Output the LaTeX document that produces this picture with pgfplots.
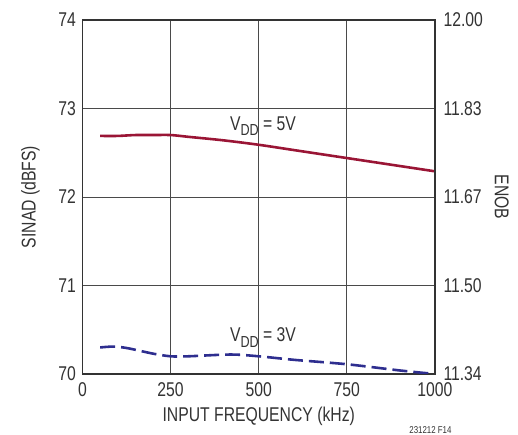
\documentclass[border=0pt]{standalone}
\usepackage{fontspec}
\setmainfont[FakeStretch=0.79]{Liberation Sans}
\usepackage{pgfplots}
\pgfplotsset{compat=1.18}
\definecolor{txt}{HTML}{333333}
\definecolor{red5}{HTML}{9A1535}
\definecolor{blue3}{HTML}{2E2E8F}
\definecolor{gridc}{HTML}{4A4A4A}
\newcommand{\vdd}{V\raisebox{-0.28em}{\fontsize{16}{16}\selectfont DD}}
\begin{document}
\begin{tikzpicture}
\pgfplotsset{every axis/.append style={font=\fontsize{20}{23}\selectfont,
  /pgf/number format/assume math mode=true,
  /pgf/number format/1000 sep={},
  scale only axis, width=352.5bp, height=354bp,
  xmin=0, xmax=1000, ymin=70, ymax=74,
  tick style={draw=none},
  ticklabel style={text=txt}, label style={text=txt}}}
\begin{axis}[name=ax,
  xtick={0,250,500,750,1000}, ytick={70,71,72,73,74},
  grid=major, grid style={gridc, line width=0.8pt},
  axis line style={txt, line width=1.3pt},
  xlabel={INPUT FREQUENCY (kHz)},
  ylabel={SINAD (dBFS)},
  xlabel style={yshift=-4bp},
  ylabel style={yshift=12bp},
  xticklabel style={yshift=-5bp},
  yticklabel style={xshift=-3bp},
]
\addplot[red5, line width=2.6pt, smooth] coordinates {
(50,72.69) (100,72.69) (150,72.70) (200,72.70) (250,72.70) (300,72.68)
(400,72.64) (500,72.59) (600,72.53) (750,72.44) (900,72.35) (1000,72.29)};
\addplot[blue3, line width=2.6pt, smooth, dash pattern=on 15bp off 6bp] coordinates {
(50,70.30) (90,70.31) (130,70.29) (200,70.23) (250,70.20) (300,70.20)
(420,70.22) (500,70.20) (600,70.16) (750,70.11) (900,70.04) (1000,70.00)};
\node[text=txt] at (axis cs:512,72.80) {\vdd{} = 5V};
\node[text=txt] at (axis cs:512,70.41) {\vdd{} = 3V};
\end{axis}
\begin{axis}[
  axis x line=none, axis y line*=right,
  axis line style={txt, line width=1.3pt},
  ytick={70,71,72,73,74},
  yticklabels={11.34,11.50,11.67,11.83,12.00},
  yticklabel style={xshift=5bp},
  ylabel={ENOB},
  ylabel style={rotate=180, yshift=5bp},
]
\addplot[draw=none] coordinates {(0,70)};
\end{axis}
\node[anchor=base east, text=txt, font=\fontsize{10}{11}\selectfont] at ([xshift=20bp,yshift=-60bp]ax.south east) {231212 F14};
\pgfresetboundingbox
\path ([shift={(-82.5bp,-61bp)}]ax.south west) rectangle ([shift={(83bp,20bp)}]ax.north east);
\end{tikzpicture}
\end{document}
